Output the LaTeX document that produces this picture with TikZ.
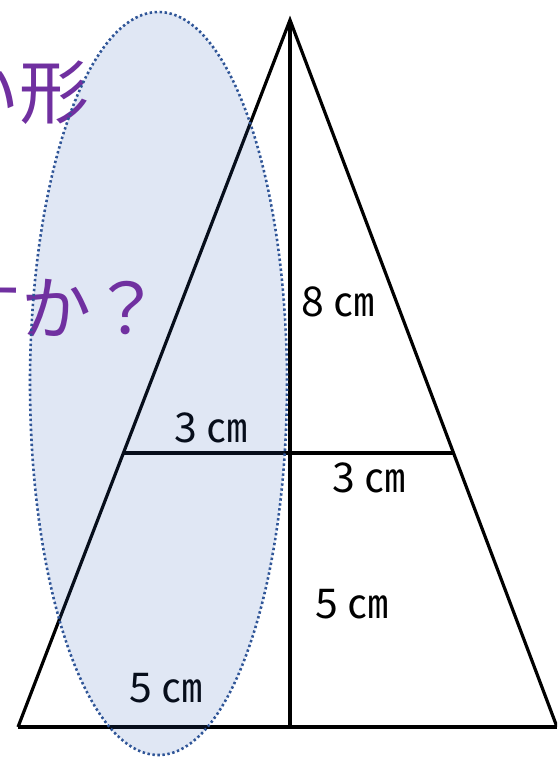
\documentclass[tikz,border=0pt]{standalone}
\usepackage{fontspec}
\newfontfamily\cjk{Noto Sans CJK JP}
\definecolor{jpurple}{HTML}{7030A0}
\definecolor{efill}{HTML}{325FB7}
\definecolor{eline}{HTML}{2F5597}
\tikzset{
  edge/.style={line width=3.2pt, black},
  lbl/.style={font=\cjk\fontsize{41}{44}\selectfont, inner sep=0pt},
  qtxt/.style={font=\cjk\fontsize{70}{74}\selectfont, text=jpurple, inner sep=0pt, anchor=base east},
}
\begin{document}
\begin{tikzpicture}[x=1pt,y=-1pt]
\useasboundingbox (0,0) rectangle (557,757);
\begin{scope}
\clip (0,0) rectangle (557,757);
% triangle
\coordinate (A) at (290,20);
\coordinate (B) at (18,727);
\coordinate (C) at (557,727);
\coordinate (H) at (290,727);
\coordinate (ML) at (124,453);
\coordinate (MR) at (454,453);
\draw[edge, line join=miter] (B) -- (A) -- (C);
\draw[edge] (B) -- (C);
\draw[edge] (A) -- (H);
\draw[edge] (ML) -- (MR);
% labels
\node[lbl] (l8) at (338,302) {8 ㎝};
\node[lbl] (l3a) at (211,428) {3 ㎝};
\node[lbl] (l3b) at (369,478) {3 ㎝};
\node[lbl] (l5a) at (352,604) {5 ㎝};
\node[lbl] (l5b) at (166,688) {5 ㎝};
% ellipse fill
\fill[efill, fill opacity=0.15] (158.5,383.5) ellipse [x radius=128.5, y radius=371.5];
% purple text
\node[qtxt] (t1) at (90,118) {い形};
\node[qtxt] (t2) at (162,334) {すか？};
% ellipse border
\draw[eline, line width=2.6pt, dash pattern=on 2.4pt off 2.6pt] (158.5,383.5) ellipse [x radius=128.5, y radius=371.5];
\end{scope}
\end{tikzpicture}
\end{document}
